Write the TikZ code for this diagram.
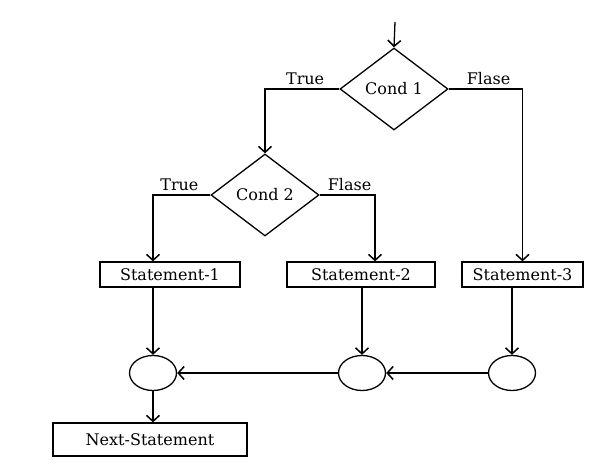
\documentclass[tikz,border=0pt]{standalone}
\usepackage{fontspec}
\setmainfont{DejaVu Serif}
\usetikzlibrary{shapes.geometric,arrows.meta}

\begin{document}
\begin{tikzpicture}[x=1pt,y=-1pt,
  font=\fontsize{16}{18}\selectfont,
  line width=1.3pt,
  arr/.style={-{Straight Barb[length=6pt,width=13pt,line width=1.5pt]}},
  cond/.style={draw,diamond,inner sep=0pt,aspect=1.3,minimum width=108pt,minimum height=82pt},
  stmt/.style={draw,rectangle,inner sep=0pt,minimum height=25pt},
  merge/.style={draw,ellipse,inner sep=0pt,minimum width=47pt,minimum height=35pt}]

\useasboundingbox (0,0) rectangle (595,476);

% conditions
\coordinate (start) at (395,22);
\node[cond] (c1) at (394,89) {Cond 1};
\node[cond] (c2) at (265,195) {Cond 2};

% statements
\node[stmt, minimum width=140pt] (s1) at (170,274.5) {Statement-1};
\node[stmt, minimum width=148pt] (s2) at (361,274.5) {Statement-2};
\node[stmt, minimum width=121pt] (s3) at (522.5,274.5) {Statement-3};

% merge points
\node[merge] (m1) at (153,373) {};
\node[merge] (m2) at (362,373) {};
\node[merge] (m3) at (512,373) {};

% next statement
\node[stmt, minimum width=194pt, minimum height=33pt] (next) at (150,439.5) {Next-Statement};

% branches of cond 1
\draw[arr] (start) -- (c1.north);
\draw[arr] (c1.west) -| (c2.north) node[pos=0.23, above] {True};
\draw[arr] (c1.east) -| (s3.north) node[pos=0.27, above] {Flase};

% branches of cond 2
\draw[arr] (c2.west) -| (m1.north |- s1.north) node[pos=0.27, above] {True};
\draw[arr] (c2.east) -| ([xshift=14pt]s2.north) node[pos=0.27, above] {Flase};

% statements to merge points
\draw[arr] (m1.north |- s1.south) -- (m1.north);
\draw[arr] (m2.north |- s2.south) -- (m2.north);
\draw[arr] (m3.north |- s3.south) -- (m3.north);

% merge points joined
\draw[arr] (m3.west) -- (m2.east);
\draw[arr] (m2.west) -- (m1.east);
\draw[arr] (m1.south) -- (m1.south |- next.north);

\end{tikzpicture}
\end{document}
